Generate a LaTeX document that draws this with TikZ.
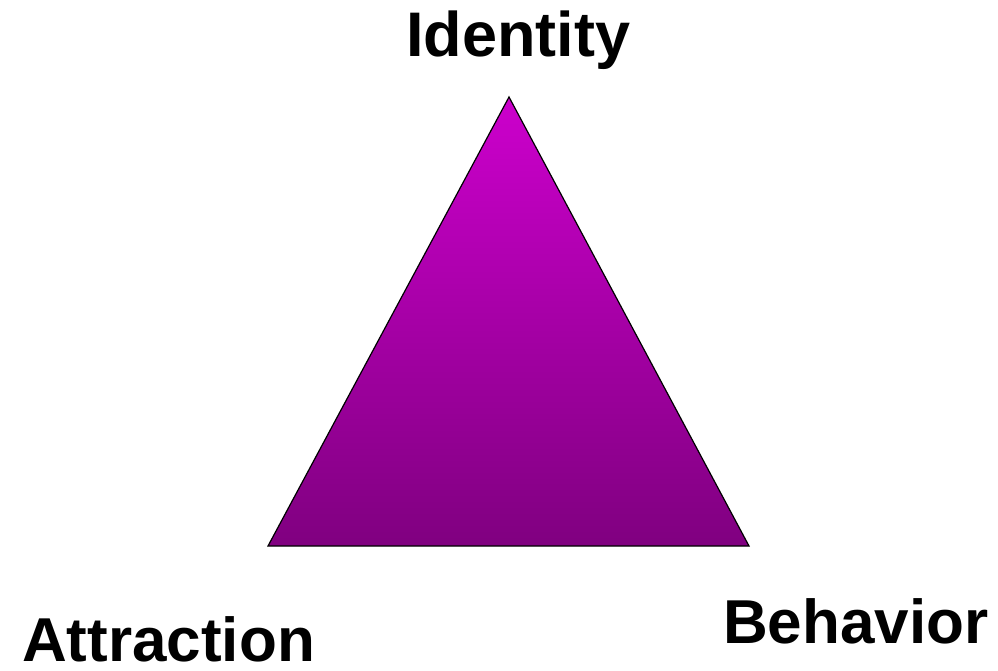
\documentclass[tikz,border=0pt]{standalone}
\usepackage{fontspec}
\setmainfont{Liberation Sans}
\definecolor{tritop}{HTML}{CC00CC}
\definecolor{tribot}{HTML}{800080}
\tikzset{lbl/.style={anchor=base west,inner sep=0pt,font=\fontsize{62}{62}\selectfont\bfseries}}
\begin{document}
\begin{tikzpicture}[x=1pt,y=-1pt]
\useasboundingbox (0,0) rectangle (998,671);
\coordinate (apex) at (509,97);
\coordinate (bl) at (268,546);
\coordinate (br) at (749,546);
\draw[line width=1.2pt,line join=miter,top color=tritop,bottom color=tribot] (apex) -- (br) -- (bl) -- cycle;
\node[lbl,font=\fontsize{63}{63}\selectfont\bfseries] (identity) at (406,57) {Identity};
\node[lbl] (attraction) at (22,661) {Attraction};
\node[lbl] (behavior) at (723,643) {Behavior};
\end{tikzpicture}
\end{document}
